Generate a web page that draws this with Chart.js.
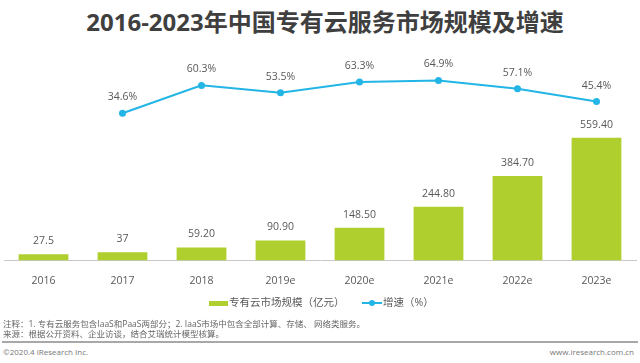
<!DOCTYPE html>
<html>
<head>
<meta charset="utf-8">
<script src="https://cdn.jsdelivr.net/npm/chart.js@4/dist/chart.umd.min.js"></script>
<style>
  body { margin: 0; background: #fff; }
  #wrap { position: relative; width: 640px; height: 363px; overflow: hidden;
          font-family: "Open Sans", "Noto Sans CJK SC", sans-serif; color: #595959; }
  #title { position: absolute; left: 0; top: 6px; width: 650px; text-align: center;
           font-size: 24px; font-weight: bold; color: #3f3f3f; line-height: 32px; }
  #chart { position: absolute; left: 0; top: 0; }
  .leg { position: absolute; top: 294px; font-size: 10.5px; line-height: 16px; white-space: nowrap; }
  .note { position: absolute; left: 3px; font-size: 8.5px; line-height: 10px; white-space: nowrap; color: #666; }
  #sep { position: absolute; left: 2px; top: 341px; width: 636px; height: 2px; background: #a8a8a8; }
  .foot { position: absolute; top: 347px; font-size: 8px; line-height: 10px; color: #777; }
</style>
</head>
<body>
<div id="wrap">
  <div id="title">2016-2023年中国专有云服务市场规模及增速</div>
  <canvas id="chart" width="640" height="303"></canvas>
  <div class="leg" style="left:209px;"><span style="display:inline-block;width:19px;height:5px;background:#afcf2f;vertical-align:middle;margin-right:1px;"></span>专有云市场规模（亿元）</div>
  <div class="leg" style="left:362px;"><span style="display:inline-block;position:relative;width:20px;height:2px;background:#22b5e6;vertical-align:middle;margin-right:1px;"><span style="position:absolute;left:7px;top:-2px;width:6px;height:6px;border-radius:3px;background:#22b5e6;"></span></span>增速（%）</div>
  <div class="note" style="top:319px;">注释：1. 专有云服务包含IaaS和PaaS两部分；2. IaaS市场中包含全部计算、存储、 网络类服务。</div>
  <div class="note" style="top:329px;">来源：根据公开资料、企业访谈，结合艾瑞统计模型核算。</div>
  <div id="sep"></div>
  <div class="foot" style="left:3px;">©2020.4 iResearch Inc.</div>
  <div class="foot" style="right:6px;">www.iresearch.com.cn</div>
</div>
<script>
const years = ["2016", "2017", "2018", "2019e", "2020e", "2021e", "2022e", "2023e"];
// market size, 100 million yuan
const marketSize = [27.5, 37, 59.2, 90.9, 148.5, 244.8, 384.7, 559.4];
const sizeLabels = ["27.5", "37", "59.20", "90.90", "148.50", "244.80", "384.70", "559.40"];
// growth rate %
const growth = [null, 34.6, 60.3, 53.5, 63.3, 64.9, 57.1, 45.4];

const barColor = "#afcf2f";
const lineColor = "#22b5e6";
const fontFamily = "'Open Sans', 'Noto Sans CJK SC', sans-serif";

// draws the numbers above bars and points
const valueLabels = {
  id: "valueLabels",
  afterDatasetsDraw(chart) {
    const ctx = chart.ctx;
    ctx.save();
    ctx.font = "10.5px " + fontFamily;
    ctx.fillStyle = "#595959";
    ctx.textAlign = "center";
    ctx.textBaseline = "middle";
    chart.getDatasetMeta(0).data.forEach((bar, i) => {
      ctx.fillText(sizeLabels[i], bar.x, bar.y - 13);
    });
    chart.getDatasetMeta(1).data.forEach((pt, i) => {
      if (growth[i] == null) return;
      ctx.fillText(growth[i].toFixed(1) + "%", pt.x, pt.y - 16);
    });
    ctx.restore();
  }
};

new Chart(document.getElementById("chart"), {
  plugins: [valueLabels],
  data: {
    labels: years,
    datasets: [
      {
        type: "bar",
        label: "专有云市场规模（亿元）",
        data: marketSize,
        backgroundColor: barColor,
        yAxisID: "y",
        categoryPercentage: 1,
        barPercentage: 0.63,
        order: 2
      },
      {
        type: "line",
        label: "增速（%）",
        data: growth,
        borderColor: lineColor,
        backgroundColor: lineColor,
        borderWidth: 2,
        pointRadius: 3.5,
        pointBackgroundColor: lineColor,
        pointBorderWidth: 0,
        tension: 0,
        yAxisID: "y1",
        order: 1
      }
    ]
  },
  options: {
    responsive: false,
    animation: false,
    layout: { padding: { top: 64, left: 4, right: 4, bottom: 10 } },
    plugins: {
      legend: { display: false },
      tooltip: { enabled: false }
    },
    scales: {
      x: {
        offset: true,
        grid: { display: false },
        border: { display: true, color: "#c8c8c8", width: 1 },
        ticks: { color: "#595959", font: { family: fontFamily, size: 10.5 }, padding: 6 }
      },
      y: { display: false, min: 0, max: 895 },
      y1: { display: false, min: -101, max: 80 }
    }
  }
});
</script>
</body>
</html>
